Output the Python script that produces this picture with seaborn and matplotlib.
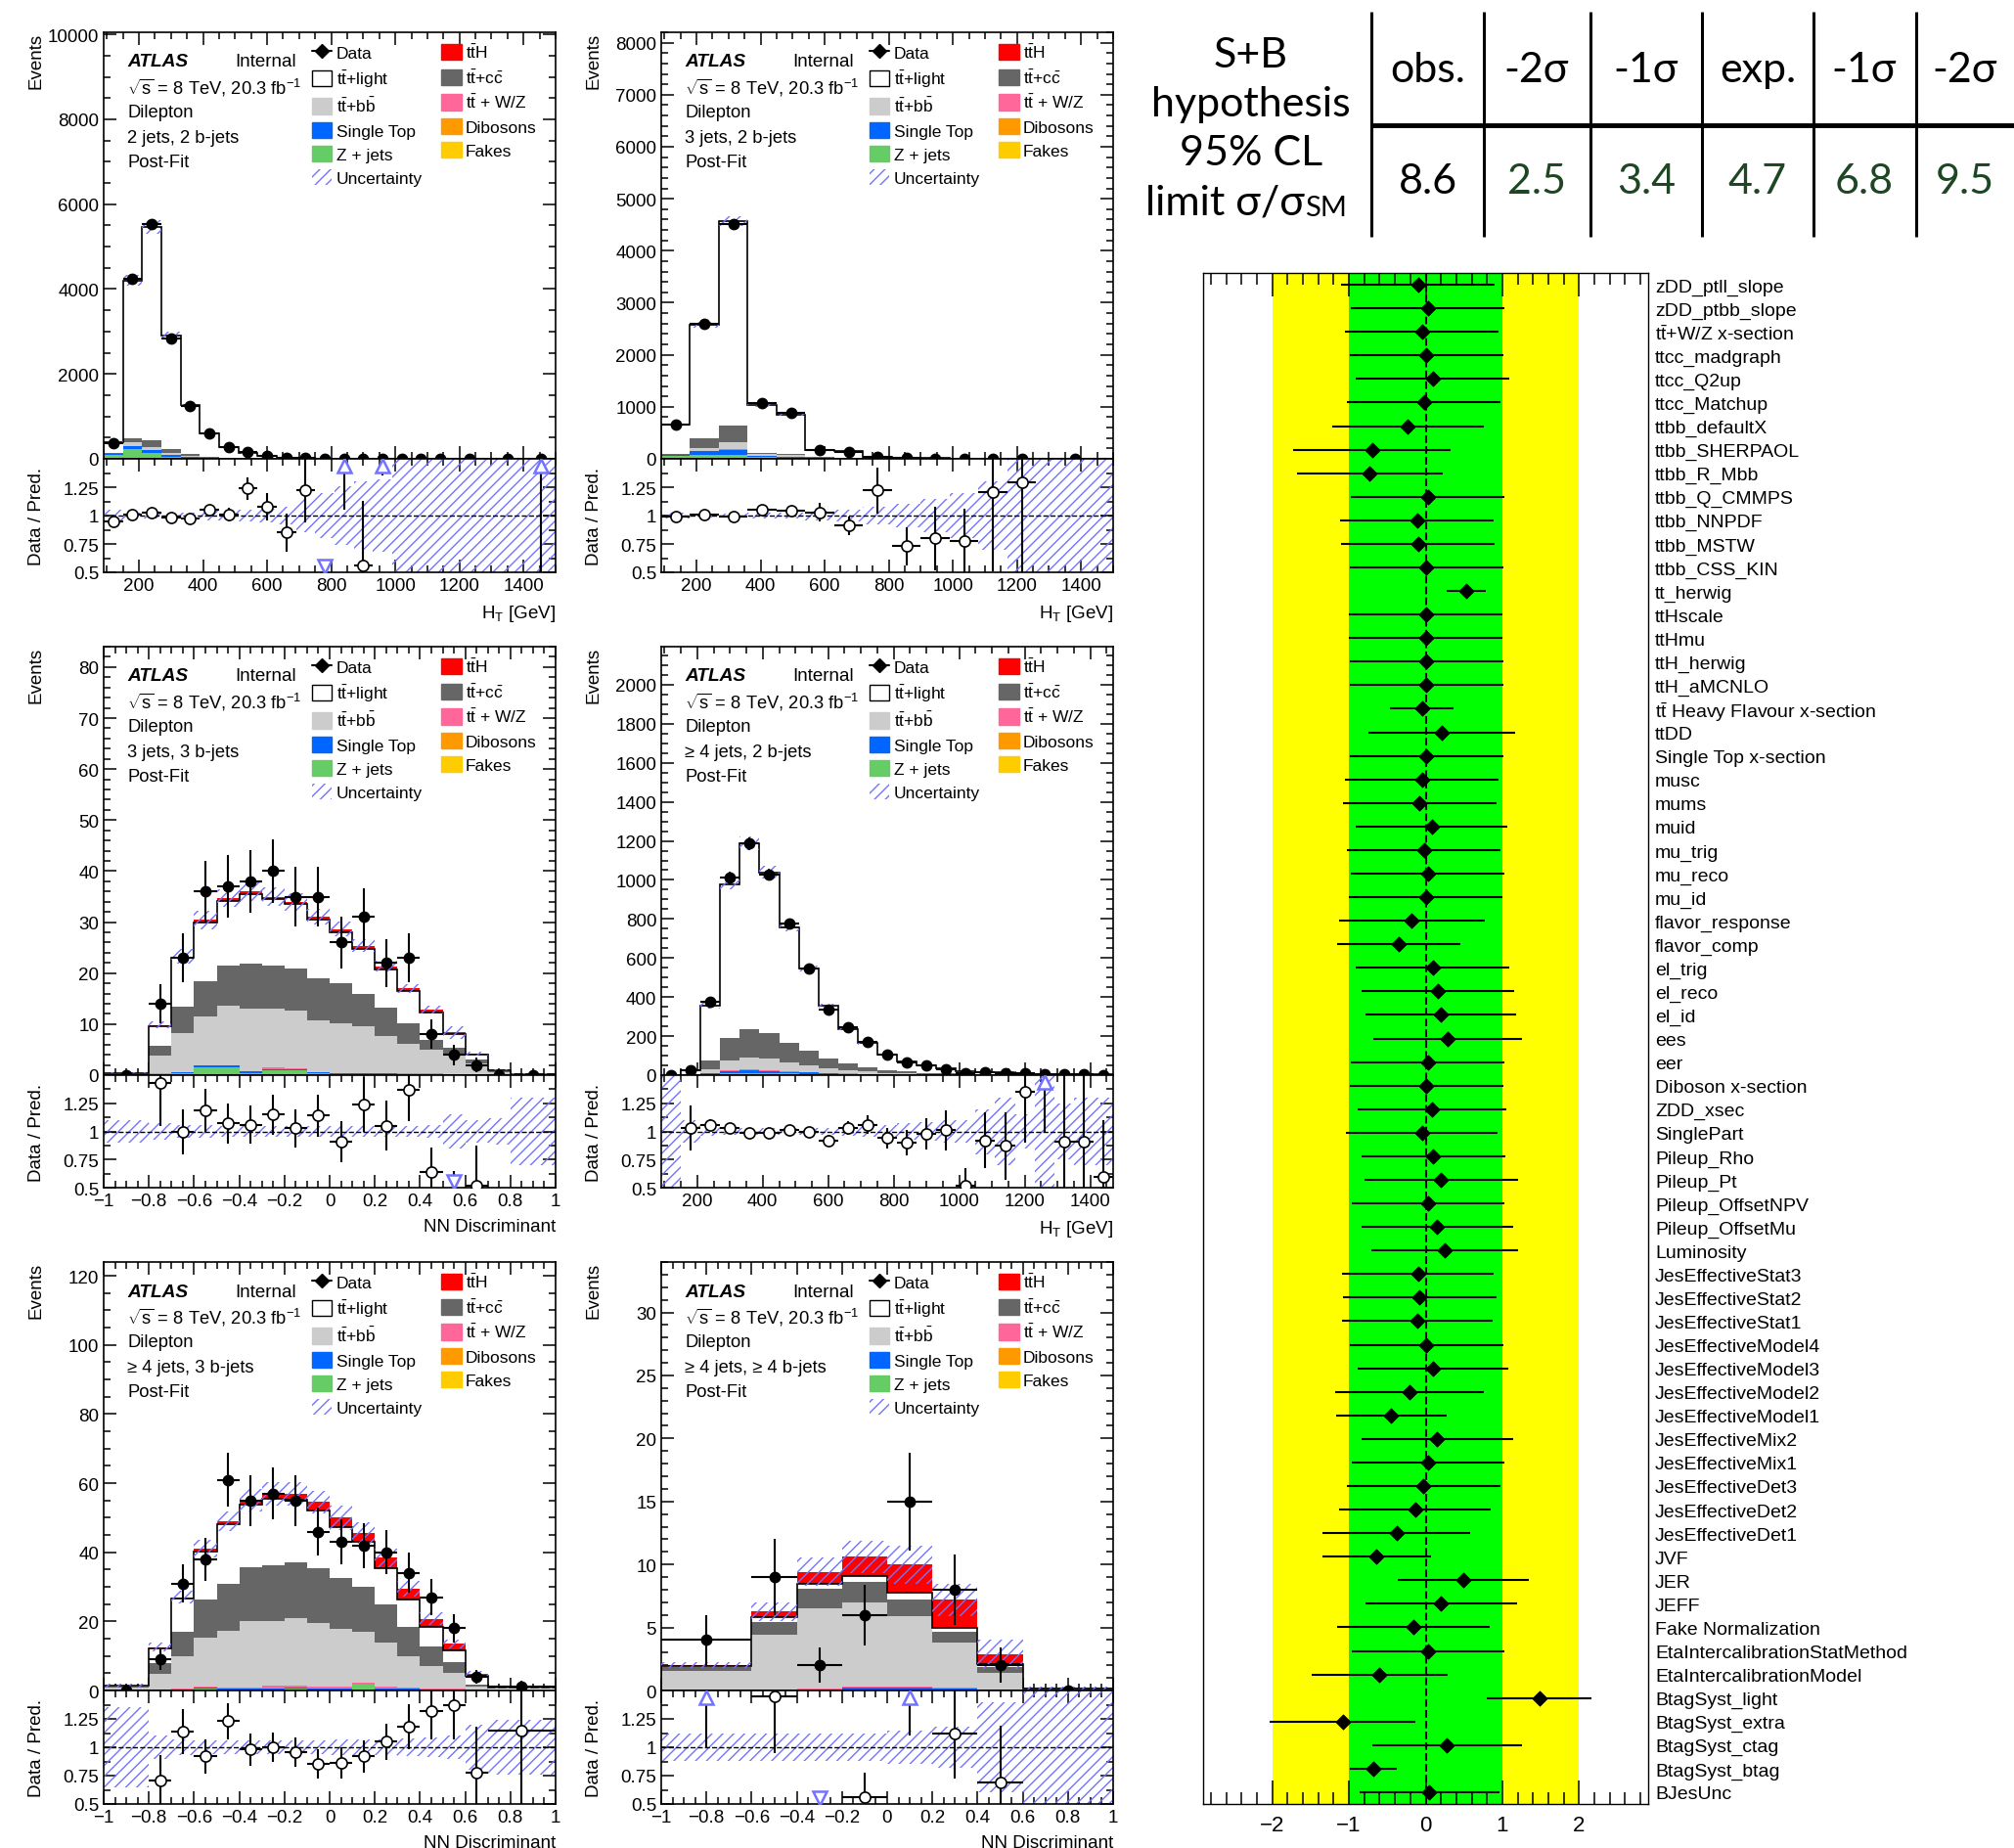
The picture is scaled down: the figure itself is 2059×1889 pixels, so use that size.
import numpy as np
import pandas as pd
import seaborn as sns
import matplotlib
matplotlib.use('Agg')
import matplotlib.pyplot as plt
from matplotlib.patches import Patch
from matplotlib.lines import Line2D
from matplotlib.ticker import MultipleLocator, FuncFormatter, FixedLocator, NullFormatter

sns.set_theme(style='ticks')
plt.rcParams['font.family'] = ['Liberation Sans', 'DejaVu Sans']
plt.rcParams['mathtext.fontset'] = 'custom'
plt.rcParams['mathtext.rm'] = 'Liberation Sans'
plt.rcParams['mathtext.it'] = 'Liberation Sans:italic'
plt.rcParams['mathtext.bf'] = 'Liberation Sans:bold'
plt.rcParams['hatch.linewidth'] = 1.0
plt.rcParams['axes.edgecolor'] = 'black'
plt.rcParams['axes.linewidth'] = 1.2
plt.rcParams['xtick.color'] = 'black'
plt.rcParams['ytick.color'] = 'black'
plt.rcParams['text.color'] = 'black'
plt.rcParams['axes.labelcolor'] = 'black'

nan = np.nan

# ---------------- panel 1 : 2 jets, 2 b-jets (HT) ----------------
p1_region = '2 jets, 2 b-jets'
p1_edges = [90, 150, 210, 270, 330, 390, 450, 510, 570, 630, 690, 750, 810, 870, 930, 990, 1050, 1110, 1170, 1290, 1410, 1500]
p1_zjets = [100, 240, 140, 50, 20, 8, 4, 2, 1, 0.5, 0.3, 0.2, 0.1, 0.1, 0, 0, 0, 0, 0, 0, 0]
p1_stop = [15, 50, 60, 35, 20, 10, 5, 3, 2, 1, 0.5, 0.3, 0.2, 0.1, 0.1, 0, 0, 0, 0, 0, 0]
p1_ttv = [1, 3, 4, 3, 2, 1, 0.5, 0.3, 0.2, 0.1, 0, 0, 0, 0, 0, 0, 0, 0, 0, 0, 0]
p1_ttbb = [10, 90, 80, 60, 25, 12, 6, 3, 2, 1, 0.5, 0.3, 0.2, 0.1, 0.1, 0, 0, 0, 0, 0, 0]
p1_ttcc = [15, 100, 160, 80, 40, 20, 10, 5, 3, 1, 0.5, 0.3, 0.2, 0.1, 0.1, 0, 0, 0, 0, 0, 0]
p1_ttlight = [250, 3720, 5010, 2675, 1155, 550, 245, 117, 55, 27, 12, 7, 4.5, 2.8, 1.9, 1.2, 0.8, 0.5, 0.4, 0.3, 0.2]
p1_tth = [0.2, 2, 3, 2, 1, 0.5, 0.3, 0.2, 0.1, 0.05, 0, 0, 0, 0, 0, 0, 0, 0, 0, 0, 0]
p1_data = [370, 4240, 5540, 2840, 1255, 610, 275, 150, 66, 28, 15, 8, 5, 3, 2, 0, 0, 0, 0, 0, 1]
p1_data_err = [19, 65, 74, 53, 35, 25, 17, 12, 8, 5, 4, 3, 2.2, 1.7, 1.4, 0, 0, 0, 0, 0, 1]
p1_ratio = [0.95, 1.01, 1.03, 0.98, 0.97, 1.05, 1.01, 1.24, 1.08, 0.85, 1.22, 0.3, 1.9, 0.56, 2.5, nan, nan, nan, nan, nan, 3.0]
p1_ratio_err = [0.01, 0.01, 0.01, 0.02, 0.03, 0.04, 0.06, 0.1, 0.12, 0.17, 0.28, 0.3, 0.85, 0.57, 1.15, 0, 0, 0, 0, 0, 2.6]
p1_unc = [0.05, 0.03, 0.03, 0.03, 0.03, 0.04, 0.04, 0.05, 0.06, 0.08, 0.15, 0.2, 0.26, 0.3, 0.32, 0.55, 0.6, 0.6, 0.6, 0.7, 0.7]

# ---------------- panel 2 : 3 jets, 2 b-jets (HT) ----------------
p2_region = '3 jets, 2 b-jets'
p2_edges = [90, 180, 270, 360, 450, 540, 630, 720, 810, 900, 990, 1080, 1170, 1260, 1500]
p2_zjets = [55, 75, 75, 30, 25, 8, 5, 2, 1, 0.5, 0.3, 0.1, 0.1, 0.1]
p2_stop = [15, 75, 100, 30, 20, 5, 3, 1, 0.5, 0.3, 0.1, 0, 0, 0]
p2_ttv = [1, 3, 5, 2, 2, 0.5, 0.3, 0.1, 0, 0, 0, 0, 0, 0]
p2_ttbb = [10, 60, 145, 25, 25, 6, 4, 1, 0.5, 0.3, 0.2, 0.1, 0.1, 0.1]
p2_ttcc = [15, 175, 320, 35, 30, 10, 6, 2, 1, 0.5, 0.3, 0.1, 0.1, 0.1]
p2_ttlight = [555, 2190, 3920, 905, 745, 136, 124, 27, 17, 8.4, 4.1, 1.4, 0.5, 0.5]
p2_tth = [0.3, 2, 4, 1.5, 1.2, 0.4, 0.3, 0.1, 0.05, 0, 0, 0, 0, 0]
p2_data = [654, 2590, 4515, 1077, 885, 170, 130, 40, 15, 8, 4, 2, 1, 0]
p2_data_err = [26, 51, 67, 33, 30, 13, 11, 6, 4, 3, 2, 1.4, 1, 0]
p2_ratio = [0.99, 1.01, 0.99, 1.05, 1.04, 1.03, 0.91, 1.22, 0.73, 0.80, 0.78, 1.21, 1.29, nan]
p2_ratio_err = [0.01, 0.02, 0.015, 0.03, 0.035, 0.08, 0.08, 0.2, 0.17, 0.28, 0.28, 0.7, 0.8, 0]
p2_unc = [0.03, 0.02, 0.02, 0.03, 0.03, 0.04, 0.05, 0.08, 0.1, 0.15, 0.2, 0.3, 0.5, 0.6]

# ---------------- panel 3 : 3 jets, 3 b-jets (NN) ----------------
p3_region = '3 jets, 3 b-jets'
p3_edges = [-1.0, -0.8, -0.7, -0.6, -0.5, -0.4, -0.3, -0.2, -0.1, 0.0, 0.1, 0.2, 0.3, 0.4, 0.5, 0.6, 0.7, 0.8, 1.0]
p3_zjets = [0.1, 0.3, 0.3, 1.6, 1.6, 0.4, 1.0, 0.9, 0.3, 0.2, 0.2, 0.2, 0.1, 0.1, 0.1, 0.05, 0.02, 0.01]
p3_stop = [0.05, 0.1, 0.2, 0.3, 0.3, 0.3, 0.2, 0.2, 0.2, 0.1, 0.1, 0.1, 0.1, 0.1, 0.05, 0.03, 0.01, 0]
p3_ttv = [0.02, 0.05, 0.1, 0.1, 0.1, 0.1, 0.3, 0.2, 0.1, 0.1, 0.1, 0.1, 0.1, 0.1, 0.1, 0.05, 0.02, 0]
p3_ttbb = [0.03, 3.45, 7.7, 9.6, 11.6, 12.3, 11.5, 11.4, 10.2, 9.8, 9.1, 7.2, 5.8, 4.6, 3.95, 2.17, 0.45, 0.04]
p3_ttcc = [0.05, 1.8, 5.2, 6.9, 7.8, 8.8, 8.4, 8.3, 8.2, 7.8, 6.4, 5.7, 4.1, 2.1, 1.1, 0.7, 0.3, 0.05]
p3_ttlight = [0.18, 3.9, 9.5, 11.5, 12.8, 13.6, 13.1, 12.5, 11.4, 10.0, 8.9, 7.4, 6.2, 5.3, 2.7, 1.0, 0.2, 0.18]
p3_tth = [0.02, 0.2, 0.3, 0.4, 0.5, 0.5, 0.5, 0.5, 0.6, 0.6, 0.6, 0.6, 0.6, 0.5, 0.4, 0.2, 0.1, 0.02]
p3_data = [0, 14, 23, 36, 37, 38, 40, 35, 35, 26, 31, 22, 23, 8, 4, 2, 0, 0]
p3_data_err = [0, 3.8, 4.8, 6.0, 6.1, 6.2, 6.3, 5.9, 5.9, 5.1, 5.6, 4.7, 4.8, 2.9, 2.0, 1.4, 0, 0]
p3_ratio = [nan, 1.43, 1.0, 1.19, 1.07, 1.06, 1.15, 1.03, 1.14, 0.91, 1.24, 1.05, 1.37, 0.64, 0.45, 0.52, nan, nan]
p3_ratio_err = [0, 0.38, 0.2, 0.19, 0.18, 0.17, 0.18, 0.17, 0.19, 0.18, 0.24, 0.22, 0.28, 0.22, 0.2, 0.35, 0, 0]
p3_unc = [0.1, 0.07, 0.06, 0.06, 0.05, 0.05, 0.05, 0.05, 0.05, 0.05, 0.05, 0.05, 0.05, 0.06, 0.15, 0.1, 0.12, 0.3]

# ---------------- panel 4 : >=4 jets, 2 b-jets (HT) ----------------
p4_region = '\u2265 4 jets, 2 b-jets'
p4_edges = [90, 150, 210, 270, 330, 390, 450, 510, 570, 630, 690, 750, 810, 870, 930, 990, 1050, 1110, 1170, 1230, 1290, 1350, 1410, 1470]
p4_zjets = [0.02, 0.5, 5, 10, 11, 10, 8, 6, 5, 3, 2, 1.5, 1, 0.8, 0.6, 0.4, 0.3, 0.2, 0.15, 0.1, 0.08, 0.08, 0.04]
p4_stop = [0.02, 0.3, 5, 10, 12, 11, 8, 7, 5, 3.5, 2.2, 1.8, 1.4, 0.9, 0.6, 0.4, 0.35, 0.3, 0.2, 0.15, 0.1, 0.1, 0.05]
p4_ttv = [0.01, 0.2, 2, 5, 5, 5, 4, 3, 2, 1.5, 0.8, 0.7, 0.6, 0.3, 0.3, 0.2, 0.15, 0.1, 0.05, 0.05, 0.02, 0.02, 0.01]
p4_ttbb = [0.05, 1, 18, 48, 61, 59, 44, 34, 24, 18, 13, 8, 5, 4, 2.5, 1.5, 1.2, 0.9, 0.6, 0.5, 0.3, 0.2, 0.2]
p4_ttcc = [0.1, 2, 43, 116, 147, 132, 101, 73, 47, 32, 22, 14, 10, 6, 4, 2.5, 2, 1.5, 1, 0.7, 0.5, 0.4, 0.3]
p4_ttlight = [0.3, 21.9, 283, 788, 950, 819, 592, 421, 272, 179, 124, 78.5, 51.7, 37.8, 25.9, 14.9, 12.9, 11.0, 5.0, 3.0, 3.4, 2.5, 2.7]
p4_tth = [0, 0.1, 0.8, 2.5, 3.5, 3.5, 3, 2.3, 1.6, 1.1, 0.8, 0.5, 0.3, 0.2, 0.15, 0.1, 0.08, 0.05, 0.03, 0.02, 0.02, 0.01, 0.01]
p4_data = [0, 26, 377, 1011, 1186, 1027, 775, 546, 334, 248, 169, 105, 64, 50, 30, 10, 16, 12, 10, 5, 4, 3, 2]
p4_data_err = [0, 5, 19, 32, 34, 32, 28, 23, 18, 16, 13, 10, 8, 7, 5.5, 3, 4, 3.5, 3, 2.2, 2, 1.7, 1.4]
p4_ratio = [nan, 1.03, 1.06, 1.03, 0.99, 0.99, 1.01, 1.0, 0.92, 1.03, 1.06, 0.94, 0.9, 0.98, 1.01, 0.52, 0.92, 0.87, 1.35, 1.9, 0.91, 0.91, 0.6]
p4_ratio_err = [0, 0.2, 0.05, 0.03, 0.03, 0.03, 0.04, 0.04, 0.05, 0.06, 0.08, 0.09, 0.11, 0.14, 0.18, 0.15, 0.25, 0.3, 0.45, 0.9, 0.6, 0.6, 0.5]
p4_unc = [0.6, 0.1, 0.04, 0.03, 0.03, 0.03, 0.03, 0.03, 0.03, 0.04, 0.05, 0.06, 0.07, 0.08, 0.1, 0.1, 0.2, 0.3, 0.15, 0.5, 0.25, 0.3, 0.3]

# ---------------- panel 5 : >=4 jets, 3 b-jets (NN) ----------------
p5_region = '\u2265 4 jets, 3 b-jets'
p5_edges = [-1.0, -0.8, -0.7, -0.6, -0.5, -0.4, -0.3, -0.2, -0.1, 0.0, 0.1, 0.2, 0.3, 0.4, 0.5, 0.6, 0.7, 1.0]
p5_zjets = [0.1, 0.1, 0.1, 0.6, 0.3, 0.3, 0.4, 0.5, 0.3, 0.3, 1.6, 0.3, 0.2, 0.2, 0.2, 0.05, 0.01]
p5_stop = [0.1, 0.2, 0.2, 0.3, 0.3, 0.3, 0.3, 0.3, 0.3, 0.3, 0.2, 0.3, 0.3, 0.2, 0.2, 0.05, 0.02]
p5_ttv = [0.1, 0.1, 0.2, 0.3, 0.3, 0.3, 0.6, 0.7, 0.4, 0.4, 0.4, 0.4, 0.3, 0.3, 0.2, 0.1, 0.02]
p5_ttbb = [0.5, 4.4, 9.4, 14.1, 16.4, 19.3, 18.7, 19.5, 18.6, 16.9, 14.9, 12.9, 9.2, 6.5, 4.6, 0.9, 0.15]
p5_ttcc = [0.2, 3.2, 7.0, 10.9, 13.7, 15.5, 16.3, 16.0, 15.7, 14.6, 12.9, 11.0, 8.5, 5.6, 3.1, 0.6, 0.1]
p5_ttlight = [0.45, 4.2, 9.6, 14.0, 17.0, 18.0, 19.2, 18.3, 16.8, 14.9, 12.9, 10.6, 7.8, 5.5, 3.3, 2.5, 0.45]
p5_tth = [0.05, 0.3, 0.5, 0.8, 1.0, 1.3, 1.5, 1.7, 2.4, 2.6, 2.7, 2.9, 3.1, 2.5, 1.9, 0.6, 0.05]
p5_data = [0, 9, 31, 38, 61, 55, 57, 55, 46, 43, 42, 40, 34, 27, 18, 4, 1]
p5_data_err = [0, 3.0, 5.6, 6.2, 7.8, 7.4, 7.5, 7.4, 6.8, 6.6, 6.5, 6.3, 5.8, 5.2, 4.2, 2.0, 1.8]
p5_ratio = [nan, 0.71, 1.14, 0.92, 1.23, 0.98, 1.0, 0.96, 0.85, 0.86, 0.92, 1.05, 1.18, 1.32, 1.37, 0.78, 1.15]
p5_ratio_err = [0, 0.22, 0.2, 0.15, 0.16, 0.14, 0.13, 0.13, 0.13, 0.14, 0.14, 0.16, 0.2, 0.25, 0.3, 0.4, 1.0]
p5_unc = [0.35, 0.1, 0.07, 0.06, 0.06, 0.06, 0.06, 0.06, 0.06, 0.07, 0.07, 0.07, 0.08, 0.09, 0.1, 0.2, 0.24]

# ---------------- panel 6 : >=4 jets, >=4 b-jets (NN) ----------------
p6_region = '\u2265 4 jets, \u2265 4 b-jets'
p6_edges = [-1.0, -0.6, -0.4, -0.2, 0.0, 0.2, 0.4, 0.6, 1.0]
p6_zjets = [0.02, 0.03, 0.05, 0.1, 0.1, 0.08, 0.03, 0.01]
p6_stop = [0.02, 0.04, 0.05, 0.1, 0.1, 0.08, 0.04, 0.005]
p6_ttv = [0.01, 0.03, 0.05, 0.1, 0.1, 0.09, 0.03, 0.005]
p6_ttbb = [1.5, 4.3, 6.35, 6.7, 5.6, 3.55, 1.3, 0.03]
p6_ttcc = [0.35, 1.05, 1.55, 1.65, 1.35, 0.85, 0.5, 0.05]
p6_ttlight = [0.05, 0.4, 0.45, 0.45, 0.55, 0.3, 0.2, 0.05]
p6_tth = [0.05, 0.4, 0.9, 1.5, 2.2, 2.25, 0.8, 0.05]
p6_data = [4, 9, 2, 6, 15, 8, 2, 0]
p6_data_err = [2.0, 3.0, 1.4, 2.4, 3.9, 2.8, 1.4, 0]
p6_ratio = [2.0, 1.45, 0.21, 0.56, 2.3, 1.12, 0.69, nan]
p6_ratio_err = [1.0, 0.5, 0.2, 0.22, 1.2, 0.4, 0.5, 0]
p6_unc = [0.12, 0.12, 0.12, 0.12, 0.15, 0.18, 0.4, 0.6]

# ---------------- nuisance parameter pulls ----------------
pull_labels = ['zDD_ptll_slope', 'zDD_ptbb_slope', r'$\mathrm{t\bar{t}}$+W/Z x-section', 'ttcc_madgraph',
               'ttcc_Q2up', 'ttcc_Matchup', 'ttbb_defaultX', 'ttbb_SHERPAOL', 'ttbb_R_Mbb', 'ttbb_Q_CMMPS',
               'ttbb_NNPDF', 'ttbb_MSTW', 'ttbb_CSS_KIN', 'tt_herwig', 'ttHscale', 'ttHmu', 'ttH_herwig',
               'ttH_aMCNLO', r'$\mathrm{t\bar{t}}$ Heavy Flavour x-section', 'ttDD', 'Single Top x-section',
               'musc', 'mums', 'muid', 'mu_trig', 'mu_reco', 'mu_id', 'flavor_response', 'flavor_comp',
               'el_trig', 'el_reco', 'el_id', 'ees', 'eer', 'Diboson x-section', 'ZDD_xsec', 'SinglePart',
               'Pileup_Rho', 'Pileup_Pt', 'Pileup_OffsetNPV', 'Pileup_OffsetMu', 'Luminosity',
               'JesEffectiveStat3', 'JesEffectiveStat2', 'JesEffectiveStat1', 'JesEffectiveModel4',
               'JesEffectiveModel3', 'JesEffectiveModel2', 'JesEffectiveModel1', 'JesEffectiveMix2',
               'JesEffectiveMix1', 'JesEffectiveDet3', 'JesEffectiveDet2', 'JesEffectiveDet1', 'JVF', 'JER',
               'JEFF', 'Fake Normalization', 'EtaIntercalibrationStatMethod', 'EtaIntercalibrationModel',
               'BtagSyst_light', 'BtagSyst_extra', 'BtagSyst_ctag', 'BtagSyst_btag', 'BJesUnc']
pull_val = [-0.10, 0.03, -0.05, 0.01, 0.09, -0.02, -0.23, -0.70, -0.73, 0.03,
            -0.11, -0.10, 0.01, 0.53, 0.0, 0.0, 0.01, 0.01, -0.05, 0.21,
            0.01, -0.05, -0.08, 0.08, -0.02, 0.03, 0.0, -0.18, -0.35, 0.09,
            0.16, 0.20, 0.29, 0.03, 0.01, 0.08, -0.05, 0.10, 0.20, 0.03,
            0.15, 0.25, -0.10, -0.08, -0.11, 0.01, 0.10, -0.21, -0.45, 0.15,
            0.03, -0.03, -0.14, -0.38, -0.64, 0.49, 0.20, -0.16, 0.03, -0.60,
            1.48, -1.08, 0.28, -0.68, 0.05]
pull_err = [1.0, 1.0, 1.0, 1.0, 1.0, 1.0, 0.99, 1.03, 0.95, 1.0,
            1.0, 1.0, 1.0, 0.26, 1.0, 1.0, 1.0, 1.0, 0.41, 0.95,
            1.0, 1.0, 1.0, 0.99, 1.0, 1.0, 1.0, 0.95, 0.80, 1.0,
            0.99, 0.98, 0.97, 1.0, 1.0, 0.97, 0.99, 0.94, 1.0, 0.99,
            0.99, 0.96, 0.99, 1.0, 0.98, 1.0, 0.98, 0.97, 0.72, 0.99,
            0.99, 1.0, 0.99, 0.96, 0.71, 0.85, 0.99, 1.0, 0.99, 0.89,
            0.68, 0.95, 0.98, 0.31, 0.91]

# ---------------- limit table ----------------
tab_left = ['S+B', 'hypothesis', '95% CL']
tab_head = ['obs.', '-2\u03c3', '-1\u03c3', 'exp.', '-1\u03c3', '-2\u03c3']
tab_vals = ['8.6', '2.5', '3.4', '4.7', '6.8', '9.5']

# colours
C_TTH, C_BB, C_CC, C_TTV = '#ff0000', '#cccccc', '#666666', '#ff6699'
C_STOP, C_DIB, C_Z, C_FAKE = '#0066ff', '#ff9900', '#66cc66', '#ffcc00'
C_UNC = '#7373ff'

W, H = 2059, 1890
fig = plt.figure(figsize=(W / 100, H / 100), dpi=100)
fig.patch.set_facecolor('white')


def frac(l, t, r, b):
    return [l / W, 1 - b / H, (r - l) / W, (b - t) / H]


def minus_fmt(v, pos):
    if abs(v) < 1e-9:
        v = 0
    return ('%g' % round(v, 6)).replace('-', '\u2212')


HT_LABEL = r'H$_{\mathrm{T}}$ [GeV]'
NN_LABEL = 'NN Discriminant'

panels = [
    dict(edges=p1_edges, zjets=p1_zjets, stop=p1_stop, ttv=p1_ttv, ttbb=p1_ttbb, ttcc=p1_ttcc,
         ttlight=p1_ttlight, tth=p1_tth, data=p1_data, derr=p1_data_err, ratio=p1_ratio,
         rerr=p1_ratio_err, unc=p1_unc, region=p1_region, ymax=10050, ymaj=2000, ymin=500,
         xmaj=200, xmin=50, xlabel=HT_LABEL),
    dict(edges=p2_edges, zjets=p2_zjets, stop=p2_stop, ttv=p2_ttv, ttbb=p2_ttbb, ttcc=p2_ttcc,
         ttlight=p2_ttlight, tth=p2_tth, data=p2_data, derr=p2_data_err, ratio=p2_ratio,
         rerr=p2_ratio_err, unc=p2_unc, region=p2_region, ymax=8200, ymaj=1000, ymin=200,
         xmaj=200, xmin=50, xlabel=HT_LABEL),
    dict(edges=p3_edges, zjets=p3_zjets, stop=p3_stop, ttv=p3_ttv, ttbb=p3_ttbb, ttcc=p3_ttcc,
         ttlight=p3_ttlight, tth=p3_tth, data=p3_data, derr=p3_data_err, ratio=p3_ratio,
         rerr=p3_ratio_err, unc=p3_unc, region=p3_region, ymax=84, ymaj=10, ymin=2,
         xmaj=0.2, xmin=0.05, xlabel=NN_LABEL),
    dict(edges=p4_edges, zjets=p4_zjets, stop=p4_stop, ttv=p4_ttv, ttbb=p4_ttbb, ttcc=p4_ttcc,
         ttlight=p4_ttlight, tth=p4_tth, data=p4_data, derr=p4_data_err, ratio=p4_ratio,
         rerr=p4_ratio_err, unc=p4_unc, region=p4_region, ymax=2195, ymaj=200, ymin=50,
         xmaj=200, xmin=50, xlabel=HT_LABEL),
    dict(edges=p5_edges, zjets=p5_zjets, stop=p5_stop, ttv=p5_ttv, ttbb=p5_ttbb, ttcc=p5_ttcc,
         ttlight=p5_ttlight, tth=p5_tth, data=p5_data, derr=p5_data_err, ratio=p5_ratio,
         rerr=p5_ratio_err, unc=p5_unc, region=p5_region, ymax=124, ymaj=20, ymin=5,
         xmaj=0.2, xmin=0.05, xlabel=NN_LABEL),
    dict(edges=p6_edges, zjets=p6_zjets, stop=p6_stop, ttv=p6_ttv, ttbb=p6_ttbb, ttcc=p6_ttcc,
         ttlight=p6_ttlight, tth=p6_tth, data=p6_data, derr=p6_data_err, ratio=p6_ratio,
         rerr=p6_ratio_err, unc=p6_unc, region=p6_region, ymax=34, ymaj=5, ymin=1,
         xmaj=0.2, xmin=0.05, xlabel=NN_LABEL),
]

col_x = [(106, 568), (676, 1138)]
row_y = [(34, 470, 586), (662, 1100, 1215), (1291, 1729, 1845)]

legend_handles = [
    Line2D([], [], color='black', marker='D', ms=7, lw=1.5),
    Patch(facecolor='white', edgecolor='black', lw=1),
    Patch(facecolor=C_BB, edgecolor=C_BB),
    Patch(facecolor=C_STOP, edgecolor=C_STOP),
    Patch(facecolor=C_Z, edgecolor=C_Z),
    Patch(facecolor='white', edgecolor=C_UNC, hatch='///', lw=0),
    Patch(facecolor=C_TTH, edgecolor=C_TTH),
    Patch(facecolor=C_CC, edgecolor=C_CC),
    Patch(facecolor=C_TTV, edgecolor=C_TTV),
    Patch(facecolor=C_DIB, edgecolor=C_DIB),
    Patch(facecolor=C_FAKE, edgecolor=C_FAKE),
]
legend_labels = ['Data', r'$\mathrm{t\bar{t}}$+light', r'$\mathrm{t\bar{t}}$+$\mathrm{b\bar{b}}$', 'Single Top',
                 'Z + jets', 'Uncertainty', r'$\mathrm{t\bar{t}}$H', r'$\mathrm{t\bar{t}}$+$\mathrm{c\bar{c}}$',
                 r'$\mathrm{t\bar{t}}$ + W/Z', 'Dibosons', 'Fakes']

for i, p in enumerate(panels):
    (l, r) = col_x[i % 2]
    (t, s, b) = row_y[i // 2]
    ax = fig.add_axes(frac(l, t, r, s))
    rax = fig.add_axes(frac(l, s, r, b))
    main_h = s - t

    edges = np.asarray(p['edges'], float)
    centers = 0.5 * (edges[1:] + edges[:-1])
    half = 0.5 * np.diff(edges)

    base = np.zeros(len(centers))
    light_top = None
    for key, col in [('zjets', C_Z), ('stop', C_STOP), ('ttv', C_TTV), ('ttbb', C_BB),
                     ('ttcc', C_CC), ('ttlight', 'white'), ('tth', C_TTH)]:
        top = base + np.asarray(p[key], float)
        ax.stairs(top, edges, baseline=base, fill=True, color=col, lw=0, zorder=1)
        if key == 'ttlight':
            light_top = top
        base = top
    total = base
    unc = np.asarray(p['unc'], float)
    ax.stairs(light_top, edges, baseline=0, color='black', lw=1.2, zorder=2)
    ax.stairs(total * (1 + unc), edges, baseline=total * (1 - unc), fill=True, facecolor='none',
              edgecolor=C_UNC, hatch='///', lw=0, zorder=3)
    ax.errorbar(centers, p['data'], yerr=p['derr'], xerr=half, fmt='o', color='black', ms=7.5,
                lw=1.5, capsize=0, zorder=5, clip_on=False)

    ax.set_xlim(edges[0], edges[-1])
    ax.set_ylim(0, p['ymax'])
    ax.yaxis.set_major_locator(MultipleLocator(p['ymaj']))
    ax.yaxis.set_minor_locator(MultipleLocator(p['ymin']))
    ax.yaxis.set_major_formatter(FuncFormatter(lambda v, pos: '%g' % v))
    for a in (ax, rax):
        a.xaxis.set_major_locator(MultipleLocator(p['xmaj']))
        a.xaxis.set_minor_locator(MultipleLocator(p['xmin']))
        a.tick_params(which='both', direction='in', top=True, right=True, labelsize=13.5, width=1.1)
        a.tick_params(which='major', length=9.5)
        a.tick_params(which='minor', length=4.8)
        a.set_facecolor('white')
    ax.xaxis.set_major_formatter(NullFormatter())
    ax.set_ylabel('Events', loc='top', fontsize=13.5)
    ax.yaxis.set_label_coords(-0.13, 1.0)

    # ratio panel
    rax.set_xlim(edges[0], edges[-1])
    rax.set_ylim(0.5, 1.5)
    rax.yaxis.set_major_locator(FixedLocator([0.5, 0.75, 1.0, 1.25]))
    rax.yaxis.set_minor_locator(FixedLocator([0.625, 0.875, 1.125, 1.375]))
    rax.yaxis.set_major_formatter(FuncFormatter(lambda v, pos: '%g' % v))
    rax.xaxis.set_major_formatter(FuncFormatter(minus_fmt))
    rax.stairs(1 + unc, edges, baseline=1 - unc, fill=True, facecolor='none', edgecolor=C_UNC,
               hatch='///', lw=0, zorder=1)
    rax.axhline(1, ls='--', color='black', lw=1, zorder=2)
    ratio = np.asarray(p['ratio'], float)
    rerr = np.asarray(p['rerr'], float)
    ok = np.isfinite(ratio) & (ratio >= 0.5) & (ratio <= 1.5)
    rax.errorbar(centers[ok], ratio[ok], yerr=rerr[ok], xerr=half[ok], fmt='o', mfc='white',
                 mec='black', ecolor='black', ms=8, mew=1.2, lw=1.5, capsize=0, zorder=5)
    hi = np.isfinite(ratio) & (ratio > 1.5)
    lo = np.isfinite(ratio) & (ratio < 0.5)
    rax.errorbar(centers[hi | lo], ratio[hi | lo], yerr=rerr[hi | lo], fmt='none', ecolor='black',
                 lw=1.5, capsize=0, zorder=4)
    rax.plot(centers[hi], np.full(hi.sum(), 1.44), ls='none', marker='^', ms=10, mfc='white',
             mec=C_UNC, mew=1.8, zorder=6)
    rax.plot(centers[lo], np.full(lo.sum(), 0.555), ls='none', marker='v', ms=10, mfc='white',
             mec=C_UNC, mew=1.8, zorder=6)
    rax.set_ylabel('Data / Pred.', fontsize=13.5)
    rax.yaxis.set_label_coords(-0.13, 0.5)
    rax.set_xlabel(p['xlabel'], loc='right', fontsize=13.5)
    rax.xaxis.set_label_coords(1.0, -0.27)

    # ATLAS text block
    y0 = 1 - 30 / main_h
    dy = 25.7 / main_h
    ax.text(0.053, y0, 'ATLAS', transform=ax.transAxes, fontsize=13.8, fontweight='bold',
            fontstyle='italic', va='center')
    ax.text(0.29, y0, 'Internal', transform=ax.transAxes, fontsize=13.5, va='center')
    info = [r'$\sqrt{\mathrm{s}}$ = 8 TeV, 20.3 fb$^{\mathrm{-1}}$', 'Dilepton', p['region'], 'Post-Fit']
    for k, txt in enumerate(info):
        ax.text(0.053, y0 - dy * (k + 1), txt, transform=ax.transAxes, fontsize=13.2, va='center')

    ax.legend(legend_handles, legend_labels, ncol=2, loc='upper left',
              bbox_to_anchor=(0.46, 1 - 11 / main_h), frameon=False, fontsize=12.5,
              handlelength=1.2, handleheight=1.05, handletextpad=0.25, labelspacing=0.42,
              columnspacing=1.1, borderpad=0, borderaxespad=0)

# ---------------- pull plot ----------------
pax = fig.add_axes(frac(1230, 280, 1685, 1845))
ypos = np.arange(len(pull_labels))
pax.axvspan(-2, 2, color='#ffff00', lw=0, zorder=0)
pax.axvspan(-1, 1, color='#00ff00', lw=0, zorder=0)
pax.axvline(0, ls='--', color='black', lw=1.5, zorder=1)
pax.errorbar(pull_val, ypos, xerr=pull_err, fmt='none', ecolor='black', lw=1.5, capsize=0, zorder=2)
pulls = pd.DataFrame({'val': pull_val, 'y': ypos})
sns.scatterplot(data=pulls, x='val', y='y', marker='D', s=60, color='black', edgecolor='black',
                ax=pax, zorder=3, legend=False)
pax.set_xlim(-2.9, 2.9)
pax.set_ylim(len(pull_labels) - 0.5, -0.5)
pax.set_xlabel('')
pax.set_ylabel('')
pax.xaxis.set_major_locator(FixedLocator([-2, -1, 0, 1, 2]))
pax.xaxis.set_minor_locator(MultipleLocator(0.2))
pax.xaxis.set_major_formatter(FuncFormatter(minus_fmt))
pax.tick_params(axis='x', which='both', direction='in', top=True, bottom=True, width=1.1)
pax.tick_params(axis='x', which='major', length=17, labelsize=16, pad=8)
pax.tick_params(axis='x', which='minor', length=8.5)
pax.yaxis.tick_right()
pax.set_yticks(ypos)
pax.set_yticklabels(pull_labels)
pax.tick_params(axis='y', which='both', length=0, labelsize=14, pad=5)
for sp in pax.spines.values():
    sp.set_linewidth(1.0)

# ---------------- limit table ----------------
tax = fig.add_axes(frac(1160, 0, 2059, 250))
tax.set_xlim(1160, 2059)
tax.set_ylim(250, 0)
tax.axis('off')
tfont = ['Lato', 'Noto Sans', 'DejaVu Sans']
col_lines = [1402, 1517, 1626, 1740, 1854, 1959]
for x in col_lines:
    tax.plot([x, x], [13, 243], color='black', lw=2.2, solid_capstyle='butt')
tax.plot([1402, 2059], [129, 129], color='black', lw=3.5, solid_capstyle='butt')
for k, txt in enumerate(tab_left):
    tax.text(1279, 57 + 50 * k, txt, ha='center', va='center', fontsize=31, family=tfont)
lim = tax.text(1171, 207, 'limit \u03c3/\u03c3', ha='left', va='center', fontsize=31, family=tfont)
tax.annotate('SM', xy=(1.0, 0.0), xycoords=lim, ha='left', va='bottom', fontsize=21, family=tfont)
col_cx = [1460, 1571, 1683, 1797, 1906, 2009]
for k, (hd, vl) in enumerate(zip(tab_head, tab_vals)):
    tax.text(col_cx[k], 72, hd, ha='center', va='center', fontsize=31, family=tfont)
    tax.text(col_cx[k], 186, vl, ha='center', va='center', fontsize=31, family=tfont,
             color='black' if k == 0 else '#1d4623')

fig.savefig('out.png', dpi=100, facecolor='white')
